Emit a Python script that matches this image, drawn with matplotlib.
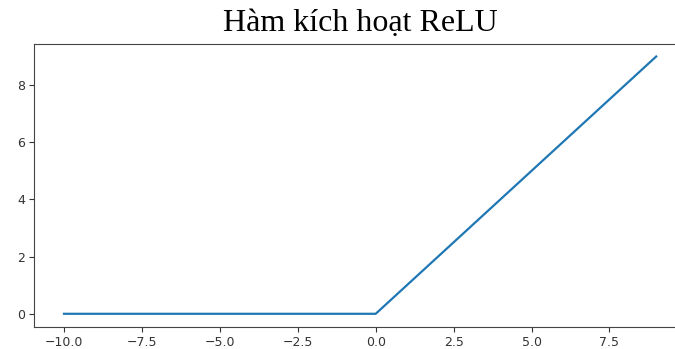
import matplotlib
matplotlib.use("Agg")
import matplotlib.pyplot as plt

x_values = [-10, -9, -8, -7, -6, -5, -4, -3, -2, -1, 0, 1, 2, 3, 4, 5, 6, 7, 8, 9]
relu_values = [0, 0, 0, 0, 0, 0, 0, 0, 0, 0, 0, 1, 2, 3, 4, 5, 6, 7, 8, 9]
title_text = "Hàm kích hoạt ReLU"
x_ticks = [-10.0, -7.5, -5.0, -2.5, 0.0, 2.5, 5.0, 7.5]
y_ticks = [0, 2, 4, 6, 8]

fig = plt.figure(figsize=(6.75, 3.49), dpi=100)
ax = fig.add_axes([0.051, 0.064, 0.965, 0.811])
ax.plot(x_values, relu_values, color="#1f77b4", linewidth=1.6)
ax.set_xticks(x_ticks)
ax.set_yticks(y_ticks)
ax.tick_params(labelsize=9, colors="#333333", pad=3)
for s in ax.spines.values():
    s.set_color("#444444")
ax.set_title(title_text, fontsize=23, family=["Liberation Serif", "DejaVu Serif"], pad=9)
fig.savefig("out.png", dpi=100)
